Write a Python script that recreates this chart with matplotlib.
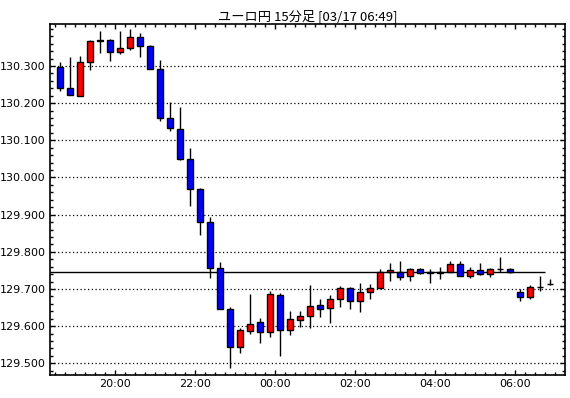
"""
EUR/JPY 15 minute candles
"""
import matplotlib
matplotlib.use("Agg")
import matplotlib.pyplot as plt
import numpy as np

plt.rcParams['font.family'] = ['Noto Sans CJK JP', 'DejaVu Sans']

# candle data, 15 min bars starting 18:30
start_min = 18 * 60 + 30
opens = [130.296, 130.240, 130.218, 130.310, 130.367, 130.369, 130.337, 130.348, 130.378, 130.353,
         130.291, 130.161, 130.130, 130.051, 129.969, 129.880, 129.756, 129.645, 129.544, 129.587,
         129.610, 129.585, 129.684, 129.589, 129.617, 129.626, 129.656, 129.648, 129.672, 129.702,
         129.668, 129.691, 129.702, 129.745, 129.747, 129.734, 129.753, 129.745, 129.747, 129.747,
         129.767, 129.735, 129.751, 129.740, 129.753, 129.753, 129.691, 129.679, 129.705, 129.714]
highs = [130.312, 130.325, 130.328, 130.369, 130.395, 130.373, 130.395, 130.400, 130.389, 130.357,
         130.316, 130.202, 130.191, 130.078, 129.972, 129.894, 129.772, 129.651, 129.594, 129.686,
         129.621, 129.695, 129.690, 129.641, 129.641, 129.711, 129.672, 129.684, 129.708, 129.705,
         129.717, 129.714, 129.754, 129.770, 129.776, 129.756, 129.756, 129.753, 129.760, 129.776,
         129.776, 129.759, 129.769, 129.757, 129.785, 129.757, 129.700, 129.711, 129.735, 129.726]
lows = [130.233, 130.221, 130.218, 130.290, 130.334, 130.314, 130.332, 130.344, 130.325, 130.291,
        130.152, 130.124, 130.047, 129.922, 129.844, 129.729, 129.645, 129.486, 129.528, 129.578,
        129.555, 129.571, 129.519, 129.576, 129.598, 129.594, 129.624, 129.609, 129.652, 129.646,
        129.639, 129.673, 129.702, 129.722, 129.724, 129.722, 129.740, 129.715, 129.727, 129.747,
        129.735, 129.729, 129.737, 129.732, 129.747, 129.742, 129.668, 129.674, 129.695, 129.711]
closes = [130.240, 130.222, 130.310, 130.367, 130.370, 130.337, 130.349, 130.378, 130.353, 130.291,
          130.161, 130.134, 130.051, 129.969, 129.880, 129.756, 129.645, 129.544, 129.589, 129.607,
          129.585, 129.686, 129.589, 129.618, 129.626, 129.653, 129.647, 129.672, 129.702, 129.668,
          129.691, 129.702, 129.745, 129.750, 129.733, 129.753, 129.742, 129.744, 129.742, 129.767,
          129.735, 129.751, 129.740, 129.753, 129.753, 129.745, 129.679, 129.705, 129.705, 129.714]
ref_price = 129.745
hour_labels = ['20:00', '22:00', '00:00', '02:00', '04:00', '06:00']
title = 'ユーロ円 15分足 [03/17 06:49]'

opens = np.array(opens)
closes = np.array(closes)
n = len(opens)
x = np.arange(n)


def time_to_pos(label):
    # candle i covers [start + 15*i, start + 15*(i+1)], drawn at its middle
    h, m = label.split(':')
    mins = int(h) * 60 + int(m)
    if mins < start_min:
        mins += 24 * 60
    return (mins - start_min) / 15 - 0.5


fig = plt.figure(figsize=(5.7, 3.98), dpi=100)
ax = fig.add_axes([50 / 570, 23 / 398, 515 / 570, 351 / 398])

# wicks
ax.vlines(x, lows, highs, color='black', lw=1, zorder=2)

# bodies
colors = np.where(closes > opens, '#ff0000', '#0000ff')
ax.bar(x, closes - opens, bottom=opens, width=0.62, color=colors,
       edgecolor='black', linewidth=1, zorder=3)

# current price line
ax.hlines(ref_price, -1.03, time_to_pos('06:45'), color='black', lw=1, zorder=1)

ax.set_xlim(-1.03, 50.47)
ax.set_ylim(129.4685, 130.413)

yt = np.arange(129.5, 130.31, 0.1)
ax.set_yticks(yt)
ax.set_yticklabels(['%.3f' % v for v in yt])
ax.set_yticks(np.arange(129.48, 130.41, 0.02), minor=True)
ax.grid(axis='y', which='major', color='black', linestyle=(0, (1, 2)), lw=0.9)

ax.set_xticks([time_to_pos(t) for t in hour_labels])
ax.set_xticklabels(hour_labels)
ax.set_xticks(np.arange(-0.5, 50.5, 1), minor=True)

ax.tick_params(which='both', direction='in', top=True, right=True,
               labelsize=8, width=1, pad=3)
ax.tick_params(which='major', length=3.6)
ax.tick_params(which='minor', length=2.2)
for lab in ax.get_xticklabels() + ax.get_yticklabels():
    lab.set_family('DejaVu Sans')

for sp in ax.spines.values():
    sp.set_linewidth(1.2)

ax.set_title(title, fontsize=9.5, pad=3)

fig.savefig('out.png', dpi=100)
